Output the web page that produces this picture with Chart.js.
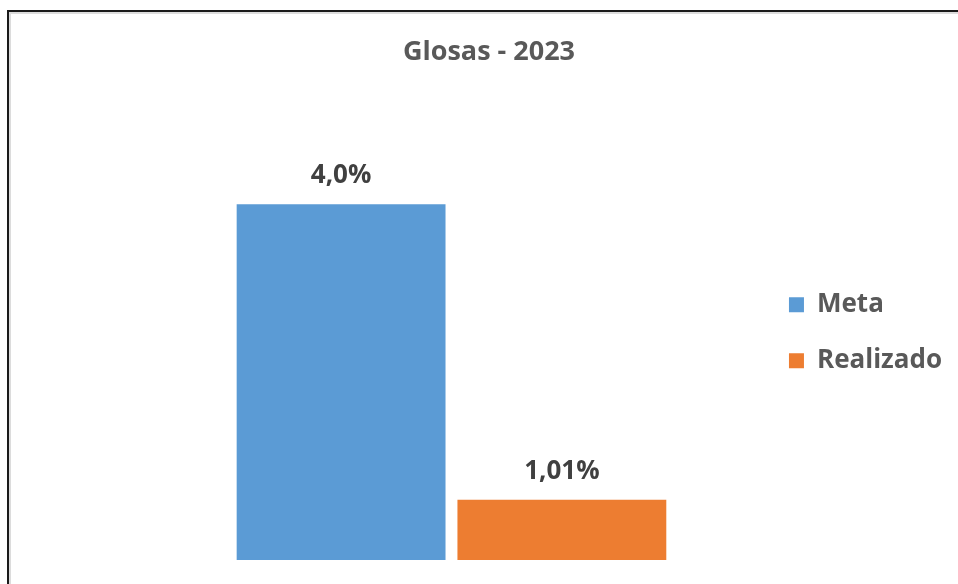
<!DOCTYPE html>
<html>
<head>
<meta charset="utf-8">
<script src="https://cdn.jsdelivr.net/npm/chart.js@4"></script>
<style>
  html, body { margin: 0; padding: 0; background: #fff; overflow: hidden; }
  #frame {
    position: absolute; left: 7px; top: 10px; width: 1000px; height: 600px;
    border-top: 2px solid #1a1a1a; border-left: 2px solid #1a1a1a;
    box-shadow: inset 2px 2px 0 #dcdcdc;
  }
  #wrap { position: absolute; left: 0; top: 0; width: 958px; height: 584px; }
</style>
</head>
<body>
<div id="frame"></div>
<div id="wrap"><canvas id="chart"></canvas></div>
<script>
var categories = ["2023"];
var seriesNames = ["Meta", "Realizado"];
var meta = [4.0];
var realizado = [1.01];
var valueLabels = [["4,0%"], ["1,01%"]];

var barLabels = {
    id: "barLabels",
    afterDatasetsDraw: function (chart) {
        let ctx = chart.ctx;
        ctx.save();
        ctx.font = "bold 26px 'Open Sans'";
        ctx.fillStyle = "#404040";
        ctx.textAlign = "center";
        ctx.textBaseline = "alphabetic";
        chart.data.datasets.forEach(function (ds, i) {
            chart.getDatasetMeta(i).data.forEach(function (bar, j) {
                ctx.fillText(valueLabels[i][j], bar.x, bar.y - 21);
            });
        });
        ctx.restore();
    }
};

new Chart(document.getElementById("chart"), {
    type: "bar",
    data: {
        labels: categories,
        datasets: [
            {
                label: seriesNames[0],
                data: meta,
                backgroundColor: "#5b9bd5",
                categoryPercentage: 0.718,
                barPercentage: 0.946
            },
            {
                label: seriesNames[1],
                data: realizado,
                backgroundColor: "#ed7d31",
                categoryPercentage: 0.718,
                barPercentage: 0.946
            }
        ]
    },
    plugins: [barLabels],
    options: {
        responsive: true,
        maintainAspectRatio: false,
        animation: false,
        layout: {
            padding: { left: 26, right: 6, top: 0, bottom: 24 }
        },
        plugins: {
            title: {
                display: true,
                text: "Glosas - 2023",
                color: "#595959",
                font: { family: "'Open Sans'", size: 27, weight: "bold" },
                padding: { top: 36, bottom: 37 }
            },
            legend: {
                position: "right",
                fullSize: false,
                labels: {
                    boxWidth: 15,
                    boxHeight: 15,
                    padding: 30,
                    color: "#595959",
                    font: { family: "'Open Sans'", size: 26, weight: "bold" }
                }
            },
            tooltip: { enabled: false }
        },
        scales: {
            x: { display: false },
            y: {
                min: 0.4,
                max: 5.0,
                grid: { display: false },
                border: { display: false },
                ticks: { display: false },
                afterFit: function (scale) { scale.width = 118; }
            }
        }
    }
});
</script>
</body>
</html>
